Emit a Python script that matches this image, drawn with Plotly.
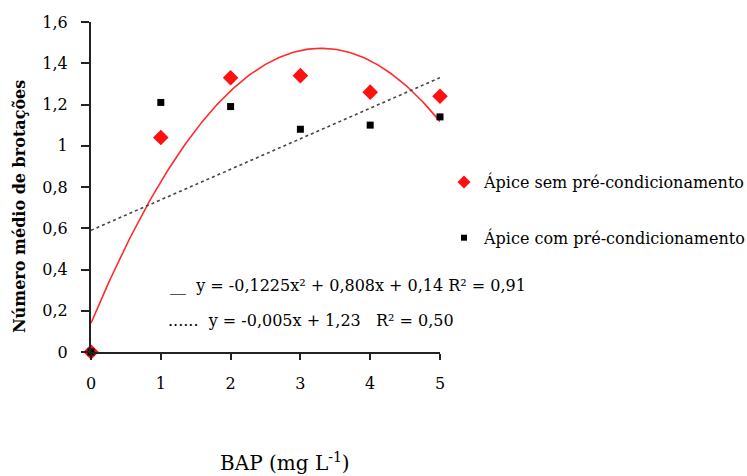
import numpy as np
import plotly.graph_objects as go

# Data
bap = [0, 1, 2, 3, 4, 5]
sem_pre = [0, 1.04, 1.33, 1.34, 1.26, 1.24]
com_pre = [0, 1.21, 1.19, 1.08, 1.10, 1.14]

# Trendline coefficients
quad_coef = [-0.1225, 0.808, 0.14]      # a, b, c  (red fit)
lin_drawn = [0.148, 0.59]               # slope, intercept of drawn dotted fit

y_tickvals = [0, 0.2, 0.4, 0.6, 0.8, 1.0, 1.2, 1.4, 1.6]
y_ticktext = ["0", "0,2", "0,4", "0,6", "0,8", "1", "1,2", "1,4", "1,6"]
x_tickvals = [0, 1, 2, 3, 4, 5]

name_sem = "Ápice sem pré-condicionamento"
name_com = "Ápice com pré-condicionamento"
eq1 = "__  y = -0,1225x² + 0,808x + 0,14 R² = 0,91"
eq2 = "......  y = -0,005x + 1,23   R² = 0,50"
x_title = "BAP (mg L<sup>-1</sup>)"
y_title = "<b>Número médio de brotações</b>"

xs = np.linspace(0, 5, 200)
ys_quad = np.polyval(quad_coef, xs)
ys_lin = np.polyval(lin_drawn, xs)

SERIF = "DejaVu Serif"

W, H = 747, 476
L, R, T, B = 91, 307, 22, 124
pw, ph = W - L - R, H - T - B


def px2paper(px, py):
    return (px - L) / pw, 1 - (py - T) / ph


fig = go.Figure()
fig.add_trace(go.Scatter(x=xs, y=ys_quad, mode="lines",
                         line=dict(color="#ff2a2a", width=1.6),
                         showlegend=False, hoverinfo="skip", cliponaxis=False))
fig.add_trace(go.Scatter(x=xs, y=ys_lin, mode="lines",
                         line=dict(color="#444444", width=1.6, dash="dot"),
                         showlegend=False, hoverinfo="skip", cliponaxis=False))
fig.add_trace(go.Scatter(x=bap, y=sem_pre, mode="markers", name=name_sem,
                         marker=dict(symbol="diamond", size=12, color="#ff1010"),
                         cliponaxis=False, showlegend=False))
fig.add_trace(go.Scatter(x=bap, y=com_pre, mode="markers", name=name_com,
                         marker=dict(symbol="square", size=7, color="black"),
                         cliponaxis=False, showlegend=False))
# legend entries (smaller symbols as in the reference)
fig.add_trace(go.Scatter(x=[None], y=[None], mode="markers", name=name_sem,
                         marker=dict(symbol="diamond", size=10, color="#ff1010"),
                         legendgroup="a"))
fig.add_trace(go.Scatter(x=[None], y=[None], mode="markers", name=name_com,
                         marker=dict(symbol="square", size=6, color="black"),
                         legendgroup="b"))

for txt, (px, py) in zip([eq1, eq2], [(168, 285), (166, 320)]):
    ax, ay = px2paper(px, py)
    fig.add_annotation(x=ax, y=ay, xref="paper", yref="paper", text=txt,
                       showarrow=False, xanchor="left", yanchor="middle",
                       font=dict(family=SERIF, size=16, color="black"))

ax, ay = px2paper(285, 462)
fig.add_annotation(x=ax, y=ay, xref="paper", yref="paper", text=x_title,
                   showarrow=False, xanchor="center", yanchor="middle",
                   font=dict(family=SERIF, size=20, color="black"))
ax, ay = px2paper(20, 207)
fig.add_annotation(x=ax, y=ay, xref="paper", yref="paper", text=y_title,
                   showarrow=False, xanchor="center", yanchor="middle",
                   textangle=-90,
                   font=dict(family=SERIF, size=16, color="black"))

lx, ly = px2paper(444, 165)
fig.update_layout(
    width=W, height=H,
    margin=dict(l=L, r=R, t=T, b=B, autoexpand=False),
    plot_bgcolor="white", paper_bgcolor="white",
    font=dict(family=SERIF, color="black"),
    showlegend=True,
    legend=dict(x=lx, y=ly, xanchor="left", yanchor="top",
                font=dict(family=SERIF, size=16, color="black"),
                tracegroupgap=32, bgcolor="rgba(0,0,0,0)", itemwidth=30),
    xaxis=dict(range=[0, 5], tickvals=x_tickvals, showgrid=False, zeroline=False,
               showline=True, linecolor="#222", linewidth=2,
               ticks="outside", ticklen=6, tickwidth=2, tickcolor="#222",
               tickfont=dict(family=SERIF, size=16, color="black"),
               ticklabelstandoff=10),
    yaxis=dict(range=[0, 1.6], tickvals=y_tickvals, ticktext=y_ticktext,
               showgrid=False, zeroline=False,
               showline=True, linecolor="#222", linewidth=2,
               ticks="outside", ticklen=8, tickwidth=2, tickcolor="#222",
               tickfont=dict(family=SERIF, size=16, color="black"),
               ticklabelstandoff=10),
)

fig.write_html("out.html")
